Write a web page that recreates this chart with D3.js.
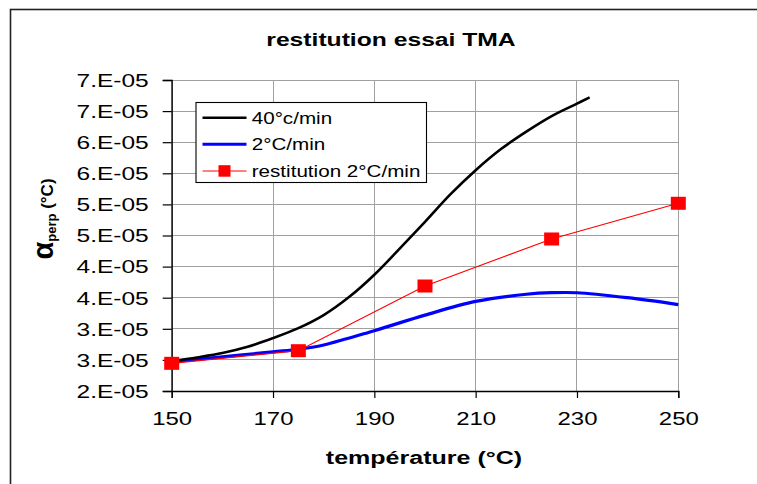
<!DOCTYPE html>
<html><head><meta charset="utf-8">
<script src="https://cdn.jsdelivr.net/npm/d3@7"></script>
<style>
html,body{margin:0;padding:0;background:#fff;}
svg{display:block;font-family:Arial,"Liberation Sans",sans-serif;}
</style></head>
<body>
<svg id="chart" width="757" height="484"></svg>
<script>
// ---- data ----
const titleText = "restitution essai TMA";
const xTitle = "température (°C)";
const seriesNames = ["40°c/min", "2°C/min", "restitution 2°C/min"];

const fastTemp = [150, 155, 160, 165, 170, 175, 180, 185, 190, 195, 200, 205, 210, 215, 220, 225, 230, 232.5];
const fastAlpha = [2.48e-5, 2.54e-5, 2.61e-5, 2.71e-5, 2.85e-5, 3.01e-5, 3.22e-5, 3.51e-5, 3.87e-5, 4.29e-5, 4.72e-5, 5.16e-5, 5.55e-5, 5.89e-5, 6.17e-5, 6.42e-5, 6.62e-5, 6.72e-5];

const slowTemp = [150, 160, 170, 175, 180, 190, 200, 210, 220, 225, 230, 240, 250];
const slowAlpha = [2.47e-5, 2.55e-5, 2.63e-5, 2.67e-5, 2.74e-5, 2.97e-5, 3.22e-5, 3.44e-5, 3.555e-5, 3.58e-5, 3.58e-5, 3.50e-5, 3.39e-5];

const restTemp = [150, 175, 200, 225, 250];
const restAlpha = [2.445e-5, 2.648e-5, 3.688e-5, 4.444e-5, 5.018e-5];

const xTicks = [150, 170, 190, 210, 230, 250];
const yTicks = [2.0e-5, 2.5e-5, 3.0e-5, 3.5e-5, 4.0e-5, 4.5e-5, 5.0e-5, 5.5e-5, 6.0e-5, 6.5e-5, 7.0e-5];
const yTickLabels = ["2.E-05","3.E-05","3.E-05","4.E-05","4.E-05","5.E-05","5.E-05","6.E-05","6.E-05","7.E-05","7.E-05"];

// ---- layout ----
const svg = d3.select("#chart");
const L = 171.7, R = 678.3, T = 80, B = 391;
const x = d3.scaleLinear().domain([150, 250]).range([L, R]);
const y = d3.scaleLinear().domain([2e-5, 7e-5]).range([B, T]);

function stretch(sel, k) {
  sel.each(function () {
    const w = this.getComputedTextLength();
    d3.select(this).attr("textLength", w * k).attr("lengthAdjust", "spacingAndGlyphs");
  });
}

// outer frame
svg.append("rect").attr("x", 10.5).attr("y", 9.5).attr("width", 800).attr("height", 600)
  .attr("fill", "none").attr("stroke", "#222").attr("stroke-width", 1.6);

// title
svg.append("text").attr("x", 391).attr("y", 46).attr("text-anchor", "middle")
  .attr("font-size", 18).attr("font-weight", "bold").text(titleText).call(stretch, 1.37);

// gridlines
const grid = svg.append("g").attr("stroke", "#a0a0a0").attr("stroke-width", 1).attr("shape-rendering", "crispEdges");
grid.selectAll(".hg").data(yTicks).join("line")
  .attr("x1", L).attr("x2", R).attr("y1", d => y(d)).attr("y2", d => y(d));
grid.selectAll(".vg").data(xTicks).join("line")
  .attr("y1", T).attr("y2", B).attr("x1", d => x(d)).attr("x2", d => x(d));

// axes
const yAxis = d3.axisLeft(y).tickValues(yTicks).tickSize(9).tickPadding(14)
  .tickFormat((d, i) => yTickLabels[i]);
const gy = svg.append("g").attr("transform", `translate(${L},0)`).call(yAxis);
gy.select(".domain").attr("stroke", "#000").attr("stroke-width", 1.3);
gy.selectAll(".tick line").attr("stroke", "#000").attr("stroke-width", 1.2);
gy.selectAll(".tick text").attr("font-size", 17.5).attr("fill", "#000")
  .attr("font-family", "Arial, 'Liberation Sans', sans-serif").attr("dy", "0.36em").call(stretch, 1.4);

const xAxis = d3.axisBottom(x).tickValues(xTicks).tickSize(7).tickPadding(14);
const gx = svg.append("g").attr("transform", `translate(0,${B})`).call(xAxis);
gx.select(".domain").attr("stroke", "#000").attr("stroke-width", 1.3);
gx.selectAll(".tick line").attr("stroke", "#000").attr("stroke-width", 1.2);
gx.selectAll(".tick text").attr("font-size", 19).attr("fill", "#000")
  .attr("font-family", "Arial, 'Liberation Sans', sans-serif").call(stretch, 1.26);

// axis titles
svg.append("text").attr("x", 424).attr("y", 464).attr("text-anchor", "middle")
  .attr("font-size", 18).attr("font-weight", "bold").text(xTitle).call(stretch, 1.39);

const yt = svg.append("text").attr("transform", "translate(53,219) rotate(-90)")
  .attr("text-anchor", "middle").attr("font-weight", "bold");
yt.append("tspan").attr("font-size", 29).text("α");
yt.append("tspan").attr("font-size", 13).attr("dy", 3).text("perp");
yt.append("tspan").attr("font-size", 17).attr("dy", -3).text(" (°C)");

// lines
const line = d3.line().x(d => x(d[0])).y(d => y(d[1])).curve(d3.curveCatmullRom);
const fast = fastTemp.map((t, i) => [t, fastAlpha[i]]);
const slow = slowTemp.map((t, i) => [t, slowAlpha[i]]);
const rest = restTemp.map((t, i) => [t, restAlpha[i]]);

svg.append("path").datum(slow).attr("d", line).attr("fill", "none")
  .attr("stroke", "#0000ff").attr("stroke-width", 3.2);
svg.append("path").datum(fast).attr("d", line).attr("fill", "none")
  .attr("stroke", "#000").attr("stroke-width", 2.6);
svg.append("path").datum(rest).attr("d", d3.line().x(d => x(d[0])).y(d => y(d[1])))
  .attr("fill", "none").attr("stroke", "#ff0000").attr("stroke-width", 1.2);
svg.selectAll(".mk").data(rest).join("rect")
  .attr("x", d => x(d[0]) - 7.5).attr("y", d => y(d[1]) - 6.5)
  .attr("width", 15).attr("height", 13).attr("fill", "#ff0000");

// legend
const lg = svg.append("g");
lg.append("rect").attr("x", 196).attr("y", 102.5).attr("width", 230.5).attr("height", 80)
  .attr("fill", "#fff").attr("stroke", "#000").attr("stroke-width", 1.1);
const legColors = ["#000", "#0000ff", "#ff0000"];
const legWidths = [2.6, 3, 1.2];
const legY = [117.7, 144.3, 171];
seriesNames.forEach((name, i) => {
  lg.append("line").attr("x1", 202.5).attr("x2", 246.5).attr("y1", legY[i]).attr("y2", legY[i])
    .attr("stroke", legColors[i]).attr("stroke-width", legWidths[i]);
  if (i === 2) {
    lg.append("rect").attr("x", 218.5).attr("y", legY[i] - 5.8).attr("width", 12).attr("height", 11.5)
      .attr("fill", "#ff0000");
  }
  lg.append("text").attr("x", 251.7).attr("y", legY[i]).attr("dy", "0.36em")
    .attr("font-size", 16.5).text(name).call(stretch, 1.25);
});
</script>
</body></html>
